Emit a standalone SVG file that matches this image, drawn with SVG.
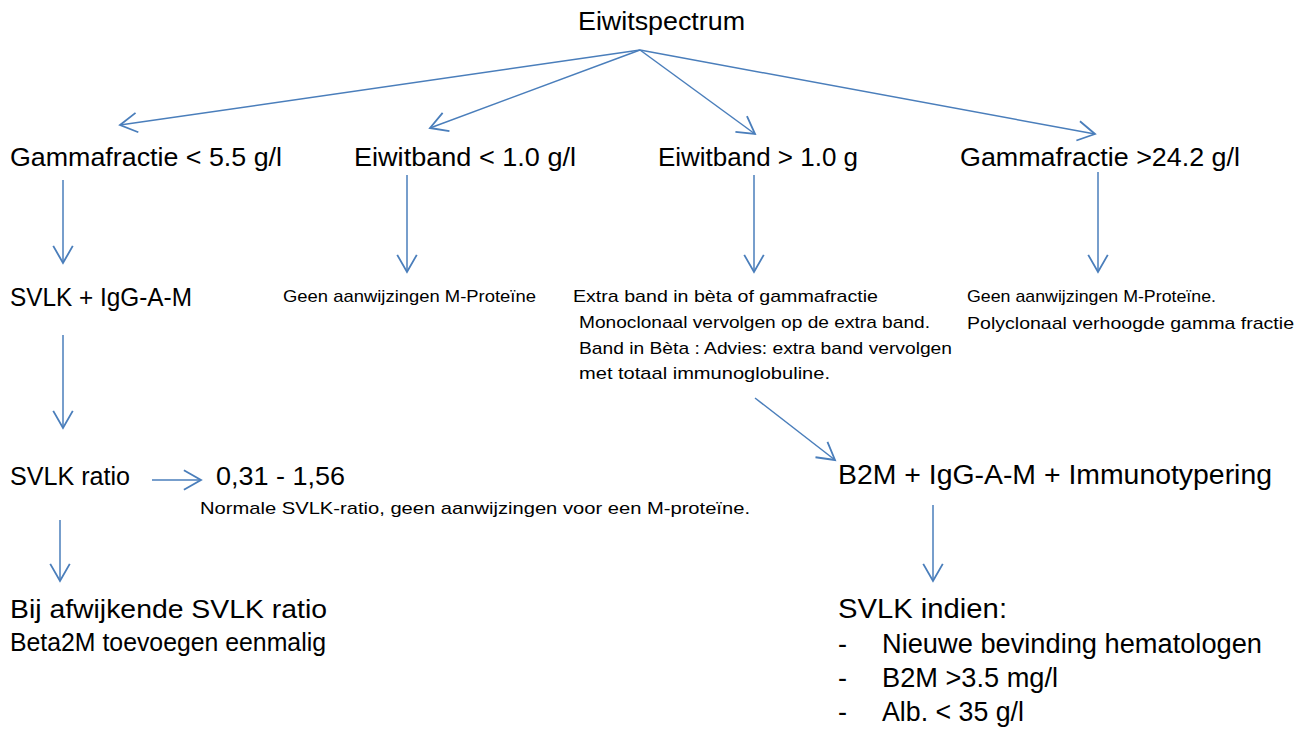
<svg xmlns="http://www.w3.org/2000/svg" width="1306" height="729" viewBox="0 0 1306 729">
<defs>
<marker id="ah" markerUnits="userSpaceOnUse" markerWidth="22" markerHeight="22" refX="15" refY="9" orient="auto" viewBox="0 0 18 18">
<path d="M1,1 L15,9 L1,17" fill="none" stroke="#4a7ebb" stroke-width="1.5"/>
</marker>
<style>
text{font-family:"Liberation Sans",Arial,sans-serif;fill:#000}
.l{font-size:26px}
.s{font-size:17px}
.m{font-size:27px}
.c line{stroke:#4a7ebb;stroke-width:1.5;marker-end:url(#ah)}
</style>
</defs>
<rect width="1306" height="729" fill="#fff"/>
<g class="c" id="connectors">
<line x1="640" y1="50" x2="120" y2="125"/>
<line x1="640" y1="50" x2="430" y2="128"/>
<line x1="640" y1="50" x2="755" y2="134"/>
<line x1="640" y1="50" x2="1095" y2="134"/>
<line x1="63" y1="180" x2="63" y2="263"/>
<line x1="407" y1="175" x2="407" y2="272"/>
<line x1="754" y1="175" x2="754" y2="272"/>
<line x1="1098" y1="172" x2="1098" y2="272"/>
<line x1="63" y1="335" x2="63" y2="428"/>
<line x1="152" y1="480" x2="201" y2="480"/>
<line x1="60" y1="520" x2="60" y2="581"/>
<line x1="755" y1="398" x2="835" y2="460"/>
<line x1="933" y1="505" x2="933" y2="581"/>
</g>
<g id="n-root"><text class="l" x="578" y="30" textLength="167" lengthAdjust="spacingAndGlyphs">Eiwitspectrum</text></g>
<g id="n-gamma-low"><text class="l" x="10" y="166" textLength="272" lengthAdjust="spacingAndGlyphs">Gammafractie &lt; 5.5 g/l</text></g>
<g id="n-band-low"><text class="l" x="354" y="166" textLength="222" lengthAdjust="spacingAndGlyphs">Eiwitband &lt; 1.0 g/l</text></g>
<g id="n-band-high"><text class="l" x="658" y="166" textLength="200" lengthAdjust="spacingAndGlyphs">Eiwitband &gt; 1.0 g</text></g>
<g id="n-gamma-high"><text class="l" x="960" y="166" textLength="280" lengthAdjust="spacingAndGlyphs">Gammafractie &gt;24.2 g/l</text></g>
<g id="n-svlk-igg"><text class="l" x="10" y="306" textLength="182" lengthAdjust="spacingAndGlyphs">SVLK + IgG-A-M</text></g>
<g id="n-geen1"><text class="s" x="283" y="302" textLength="253" lengthAdjust="spacingAndGlyphs">Geen aanwijzingen M-Proteïne</text></g>
<g id="n-extra">
<text class="s" x="573" y="302" textLength="305" lengthAdjust="spacingAndGlyphs">Extra band in bèta of gammafractie</text>
<text class="s" x="579" y="328" textLength="351" lengthAdjust="spacingAndGlyphs">Monoclonaal vervolgen op de extra band.</text>
<text class="s" x="579" y="354" textLength="373" lengthAdjust="spacingAndGlyphs">Band in Bèta : Advies: extra band vervolgen</text>
<text class="s" x="579" y="379" textLength="251" lengthAdjust="spacingAndGlyphs">met totaal immunoglobuline.</text>
</g>
<g id="n-geen2">
<text class="s" x="967" y="302" textLength="249" lengthAdjust="spacingAndGlyphs">Geen aanwijzingen M-Proteïne.</text>
<text class="s" x="967" y="329" textLength="327" lengthAdjust="spacingAndGlyphs">Polyclonaal verhoogde gamma fractie</text>
</g>
<g id="n-ratio"><text class="l" x="10" y="485" textLength="120" lengthAdjust="spacingAndGlyphs">SVLK ratio</text></g>
<g id="n-range"><text class="l" x="216" y="485" textLength="129" lengthAdjust="spacingAndGlyphs">0,31 - 1,56</text></g>
<g id="n-normaal"><text class="s" x="200" y="514" textLength="550" lengthAdjust="spacingAndGlyphs">Normale SVLK-ratio, geen aanwijzingen voor een M-proteïne.</text></g>
<g id="n-afwijkend">
<text class="l" x="10" y="618" textLength="317" lengthAdjust="spacingAndGlyphs">Bij afwijkende SVLK ratio</text>
<text class="l" x="10" y="651" textLength="316" lengthAdjust="spacingAndGlyphs">Beta2M toevoegen eenmalig</text>
</g>
<g id="n-b2m"><text class="m" x="838" y="484" textLength="434" lengthAdjust="spacingAndGlyphs">B2M + IgG-A-M + Immunotypering</text></g>
<g id="n-svlk-indien">
<text class="m" x="838" y="618" textLength="169" lengthAdjust="spacingAndGlyphs">SVLK indien:</text>
<text class="m" x="838" y="653">-</text>
<text class="m" x="882" y="653" textLength="380" lengthAdjust="spacingAndGlyphs">Nieuwe bevinding hematologen</text>
<text class="m" x="838" y="687">-</text>
<text class="m" x="882" y="687" textLength="176" lengthAdjust="spacingAndGlyphs">B2M &gt;3.5 mg/l</text>
<text class="m" x="838" y="721">-</text>
<text class="m" x="882" y="721" textLength="142" lengthAdjust="spacingAndGlyphs">Alb. &lt; 35 g/l</text>
</g>
</svg>
